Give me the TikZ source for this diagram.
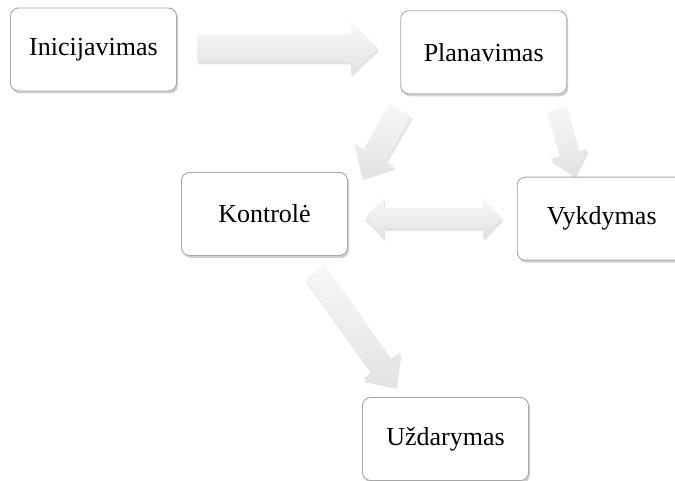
\documentclass[tikz,border=0pt]{standalone}
\usepackage{fontspec}
\setmainfont{Liberation Serif}
\usetikzlibrary{calc,shadows}
\newcommand{\bkarrow}[5]{%
  \path[blockarrow] (#1)
    -- ($(#1)!#2!90:(#5)$)
    -- ($($(#5)!#4!(#1)$)!#2!-90:(#1)$)
    -- ($($(#5)!#4!(#1)$)!#3!-90:(#1)$)
    -- (#5)
    -- ($($(#5)!#4!(#1)$)!#3!90:(#1)$)
    -- ($($(#5)!#4!(#1)$)!#2!90:(#1)$)
    -- ($(#1)!#2!-90:(#5)$)
    -- cycle;}
\newcommand{\bkdarrow}[5]{%
  \path[blockarrow] (#1)
    -- ($($(#1)!#4!(#5)$)!#3!-90:(#5)$)
    -- ($($(#1)!#4!(#5)$)!#2!-90:(#5)$)
    -- ($($(#5)!#4!(#1)$)!#2!90:(#1)$)
    -- ($($(#5)!#4!(#1)$)!#3!90:(#1)$)
    -- (#5)
    -- ($($(#5)!#4!(#1)$)!#3!-90:(#1)$)
    -- ($($(#5)!#4!(#1)$)!#2!-90:(#1)$)
    -- ($($(#1)!#4!(#5)$)!#2!90:(#5)$)
    -- ($($(#1)!#4!(#5)$)!#3!90:(#5)$)
    -- cycle;}
\begin{document}
\begin{tikzpicture}[x=1pt,y=-1pt,
  stagebox/.style={draw=gray!70, line width=0.9pt, rounded corners=8pt, fill=white,
    minimum width=166pt, minimum height=83pt, inner sep=0pt,
    font=\fontsize{26}{30}\selectfont,
    drop shadow={opacity=0.45, shadow xshift=1.5pt, shadow yshift=-2.5pt, fill=gray!80}},
  blockarrow/.style={draw=none, top color=gray!6, bottom color=gray!22,
    drop shadow={opacity=0.22, shadow xshift=1pt, shadow yshift=-3pt, fill=gray}}]
\useasboundingbox (0,0) rectangle (675,481);
% arrow end points
\coordinate (a1s) at (197,48);   \coordinate (a1e) at (378,48);
\coordinate (a2s) at (400.5,110); \coordinate (a2e) at (362,177);
\coordinate (a3s) at (557,109);  \coordinate (a3e) at (575,175);
\coordinate (a4s) at (365,218);  \coordinate (a4e) at (502,218);
\coordinate (a5s) at (315,272);  \coordinate (a5e) at (396,386);
% arrows
\bkarrow{a1s}{13.5pt}{26pt}{27pt}{a1e}
\bkarrow{a2s}{12.5pt}{23pt}{25pt}{a2e}
\bkarrow{a3s}{10pt}{19.5pt}{22pt}{a3e}
\bkdarrow{a4s}{10pt}{20pt}{19pt}{a4e}
\bkarrow{a5s}{12pt}{23pt}{25pt}{a5e}
% boxes
\node[stagebox] (ini) at (93.5,49.5) {Inicijavimas};
\node[stagebox] (plan) at (483.7,52.3) {Planavimas};
\node[stagebox] (kon) at (264.5,214) {Kontrolė};
\node[stagebox, minimum width=169pt] (vyk) at (601.7,218.7) {Vykdymas};
\node[stagebox] (uzd) at (445.5,439) {Uždarymas};
\end{tikzpicture}
\end{document}
